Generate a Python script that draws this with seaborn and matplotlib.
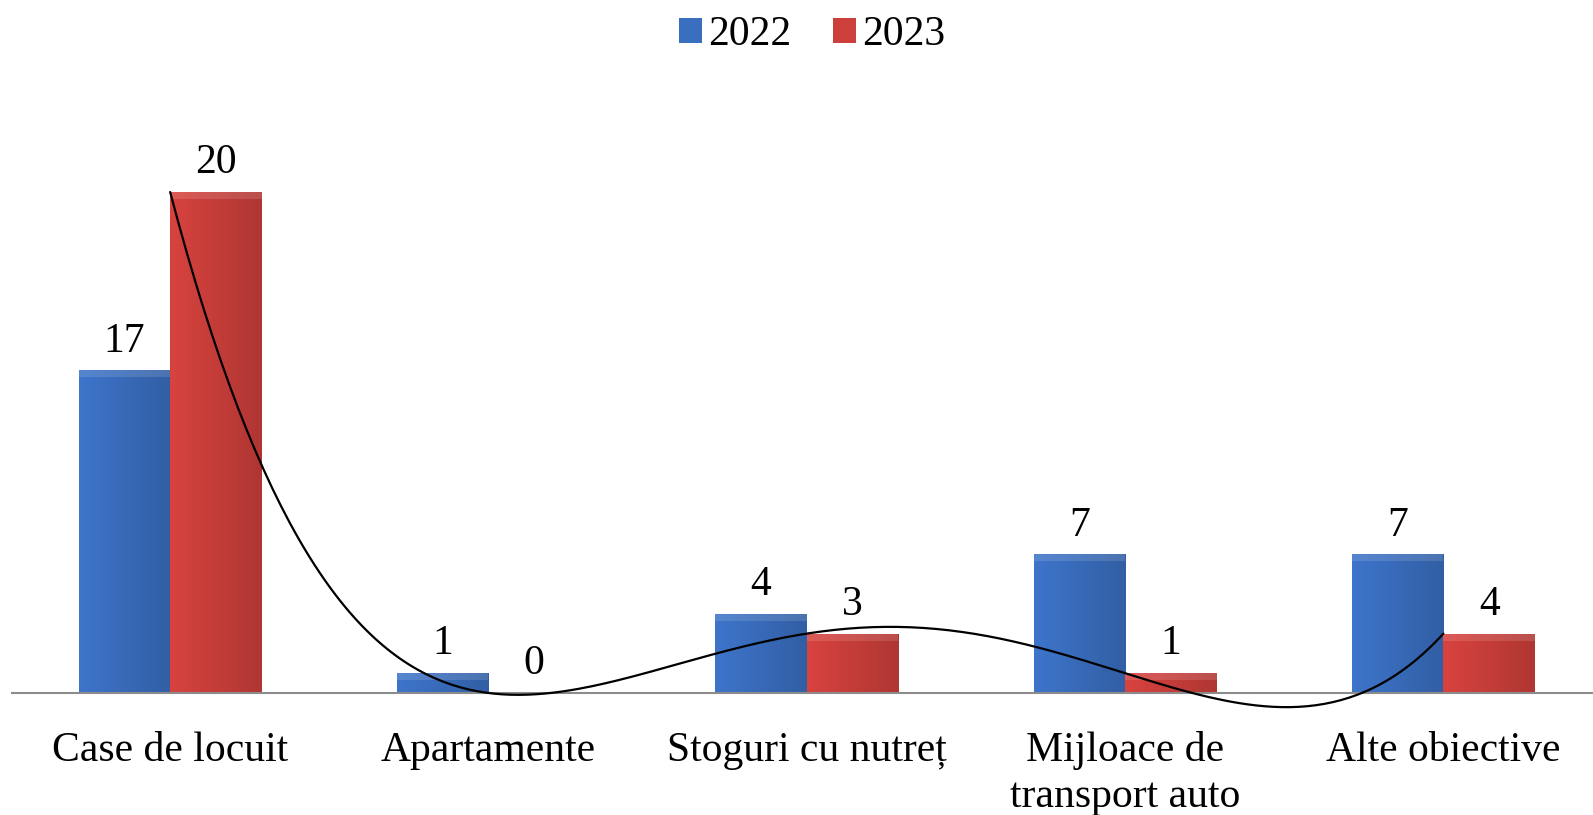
import matplotlib
matplotlib.use('Agg')

import matplotlib.pyplot as plt
import numpy as np
import pandas as pd
import seaborn as sns
from matplotlib.colors import to_rgb
from matplotlib.patches import Patch

# Datele graficului (inaltimile barelor, etichetele asa cum apar)
categories = ['Case de locuit', 'Apartamente', 'Stoguri cu nutreț',
              'Mijloace de\ntransport auto', 'Alte obiective']
years = ['2022', '2023']
values_2022 = [16.3, 1, 4, 7, 7]
values_2023 = [25.3, 0, 3, 1, 3]
labels_2022 = ['17', '1', '4', '7', '7']
labels_2023 = ['20', '0', '3', '1', '4']

colors = {'2022': '#3A6EBF', '2023': '#CC3F3B'}

df = pd.DataFrame({
    'categorie': categories * 2,
    'an': ['2022'] * len(categories) + ['2023'] * len(categories),
    'valoare': values_2022 + values_2023,
})

sns.set_style('white')
plt.rcParams['font.family'] = ['Liberation Serif', 'DejaVu Serif']
plt.rcParams['text.color'] = 'black'
plt.rcParams['xtick.color'] = 'black'

ymin, ymax = -1.5, 30
px_per_unit = 19.8
bottom_px = 693 + (-ymin) * px_per_unit
height_px = (ymax - ymin) * px_per_unit

fig = plt.figure(figsize=(15.93, 8.15), dpi=100)
ax = fig.add_axes([11 / 1593, (815 - bottom_px) / 815, 1 - 11 / 1593, height_px / 815])

sns.barplot(data=df, x='categorie', y='valoare', hue='an', palette=colors,
            width=0.575, gap=0, saturation=1, legend=False, ax=ax, zorder=2)


def shade_bar(ax, bar, base):
    """Efect simplu de relief: gradient orizontal + margine superioara deschisa."""
    x0, y0 = bar.get_x(), bar.get_y()
    w, h = bar.get_width(), bar.get_height()
    if h <= 0:
        return
    r, g, b = to_rgb(base)
    t = np.linspace(0, 1, 60)
    shade = 1.06 - 0.2 * t
    img = np.zeros((1, len(t), 3))
    img[0, :, 0] = np.clip(r * shade, 0, 1)
    img[0, :, 1] = np.clip(g * shade, 0, 1)
    img[0, :, 2] = np.clip(b * shade, 0, 1)
    im = ax.imshow(img, extent=[x0, x0 + w, y0, y0 + h], aspect='auto',
                   zorder=2.5, interpolation='bicubic')
    im.set_clip_path(bar)
    top = min(0.35, h * 0.4)
    ax.fill_between([x0, x0 + w], y0 + h - top, y0 + h,
                    color='white', alpha=0.13, lw=0, zorder=2.6)


for cont, year in zip(ax.containers, years):
    for bar in cont:
        shade_bar(ax, bar, colors[year])

ax.bar_label(ax.containers[0], labels=labels_2022, padding=7, fontsize=30)
ax.bar_label(ax.containers[1], labels=labels_2023, padding=7, fontsize=30)

# linie de tendinta polinomiala (grad 4) pentru 2023
xs = np.arange(len(categories))
coef = np.polyfit(xs, values_2023, 4)
xx = np.linspace(0, len(categories) - 1, 300)
ax.plot(xx, np.polyval(coef, xx), color='black', lw=1.6, zorder=4)

ax.axhline(0, color='#8c8c8c', lw=1.5, zorder=3)

ax.set_xlim(-0.5, 4.47)
ax.set_ylim(ymin, ymax)
ax.set_xlabel('')
ax.set_ylabel('')
ax.set_yticks([])
ax.tick_params(axis='x', length=0, pad=6, labelsize=30)
for lab in ax.get_xticklabels():
    lab.set_linespacing(1.25)
for side in ['left', 'right', 'top', 'bottom']:
    ax.spines[side].set_visible(False)

handles = [Patch(facecolor=colors[y], edgecolor='none', label=y) for y in years]
fig.legend(handles=handles, loc='upper center', bbox_to_anchor=(0.51, 1.027),
           ncol=2, frameon=False, fontsize=30, handlelength=0.55,
           handleheight=0.55, handletextpad=0.15, columnspacing=1.0)

plt.savefig('out.png', dpi=100)
plt.close()
